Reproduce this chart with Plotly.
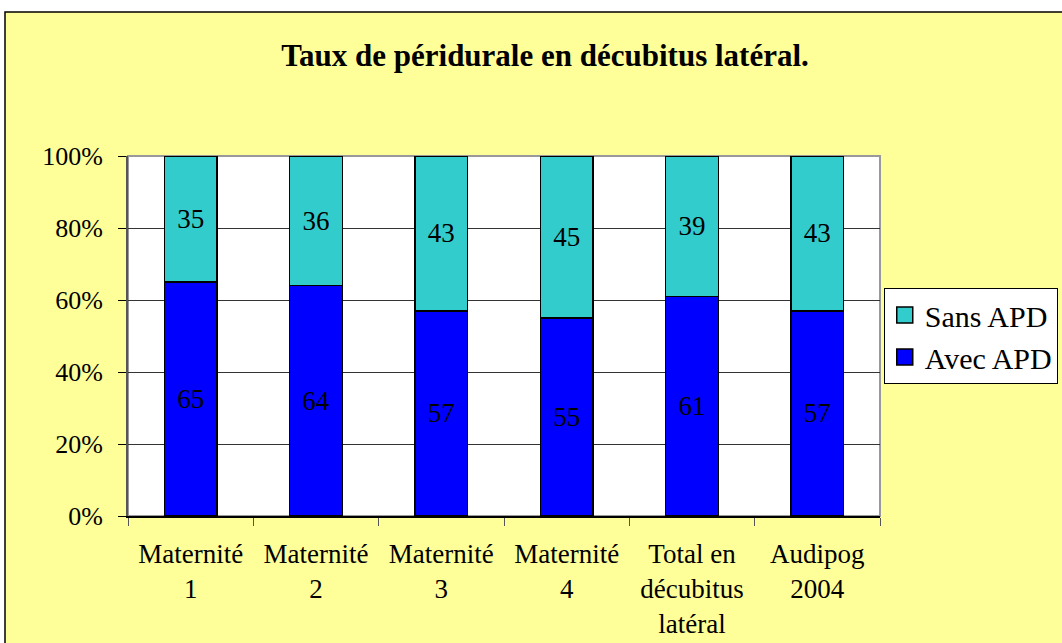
import plotly.graph_objects as go

categories = ["Maternité<br>1", "Maternité<br>2", "Maternité<br>3", "Maternité<br>4",
              "Total en<br>décubitus<br>latéral", "Audipog<br>2004"]
avec_apd = [65, 64, 57, 55, 61, 57]
sans_apd = [35, 36, 43, 45, 39, 43]
y_ticks = [0, 20, 40, 60, 80, 100]
y_labels = ["0%", "20%", "40%", "60%", "80%", "100%"]

FONT = "Liberation Serif, Times New Roman, serif"
BLUE = "#0000FF"
TEAL = "#33CCCC"

fig = go.Figure()
fig.add_trace(go.Bar(x=categories, y=avec_apd, name="Avec APD", showlegend=False,
                     marker=dict(color=BLUE, line=dict(color="black", width=1.5)),
                     text=[str(v) for v in avec_apd], textposition="inside",
                     insidetextanchor="middle", textangle=0,
                     textfont=dict(family=FONT, size=27, color="black"), width=0.42))
fig.add_trace(go.Bar(x=categories, y=sans_apd, name="Sans APD", showlegend=False,
                     marker=dict(color=TEAL, line=dict(color="black", width=1.5)),
                     text=[str(v) for v in sans_apd], textposition="inside",
                     insidetextanchor="middle", textangle=0,
                     textfont=dict(family=FONT, size=27, color="black"), width=0.42))
# legend entries (square symbols)
fig.add_trace(go.Scatter(x=[None], y=[None], mode="markers", name="Sans APD",
                         marker=dict(symbol="square", size=16, color=TEAL,
                                     line=dict(color="black", width=1.5))))
fig.add_trace(go.Scatter(x=[None], y=[None], mode="markers", name="Avec APD",
                         marker=dict(symbol="square", size=16, color=BLUE,
                                     line=dict(color="black", width=1.5))))

fig.update_layout(
    barmode="stack",
    width=1062, height=643,
    margin=dict(l=128, r=182, t=156, b=127, autoexpand=False),
    paper_bgcolor="white",
    plot_bgcolor="white",
    font=dict(family=FONT, size=26, color="black"),
    title=dict(text="<b>Taux de péridurale en décubitus latéral.</b>",
               x=545 / 1062, xanchor="center", y=1 - 55 / 643, yanchor="middle",
               font=dict(family=FONT, size=31, color="black")),
    showlegend=True,
    legend=dict(x=1.005, y=0.633, xanchor="left", yanchor="top",
                bgcolor="white", bordercolor="black", borderwidth=1,
                font=dict(family=FONT, size=30, color="black"),
                itemwidth=30, tracegroupgap=0, traceorder="normal"),
    shapes=[
        dict(type="rect", xref="paper", yref="paper",
             x0=(5 - 128) / 752, x1=1.4, y0=-0.5, y1=(516 - 12) / 360,
             fillcolor="#FFFF99", line=dict(color="black", width=1.5), layer="below"),
        dict(type="rect", xref="paper", yref="paper", x0=0, x1=1, y0=0, y1=1,
             fillcolor="white", line=dict(color="#999999", width=2), layer="below"),
    ],
)

fig.update_yaxes(range=[0, 100], tickvals=y_ticks, ticktext=y_labels,
                 showgrid=True, gridcolor="#333333", gridwidth=1,
                 ticks="outside", ticklen=8, tickcolor="black",
                 showline=True, linecolor="#555555", linewidth=2,
                 tickfont=dict(family=FONT, size=26), zeroline=False,
                 ticklabelstandoff=10, automargin=False)
fig.update_xaxes(tickson="boundaries", ticks="outside", ticklen=8, tickcolor="#555555",
                 showline=True, linecolor="black", linewidth=1.5,
                 tickfont=dict(family=FONT, size=27), showgrid=False,
                 ticklabelstandoff=13, automargin=False)

fig.write_html("out.html", config={"displayModeBar": False},
               post_script="document.body.style.margin='0px';")
